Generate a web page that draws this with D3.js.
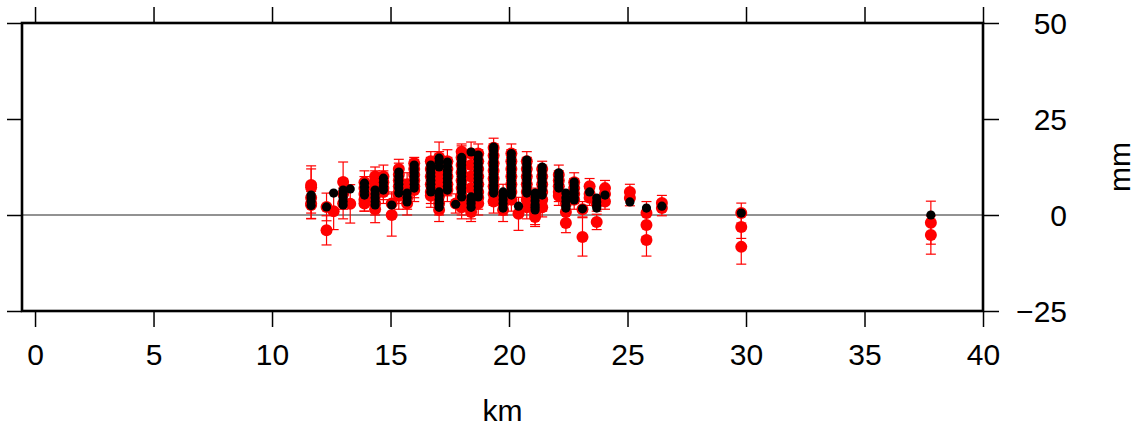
<!DOCTYPE html>
<html><head><meta charset="utf-8">
<script src="https://cdn.jsdelivr.net/npm/d3@7"></script>
<style>
html,body{margin:0;padding:0;background:#fff;}
svg{display:block;font-family:"Liberation Sans",Arial,Helvetica,sans-serif;}
</style></head>
<body>
<svg id="chart" width="1137" height="428"></svg>
<script>
// ---- data ----
const xTicks = [0,5,10,15,20,25,30,35,40];
const yTicks = [-25,0,25,50];
const xDomain = [-0.55, 40];
const yDomain = [-25, 50];

// red (observed) points: km, mm, error (mm)
const redKm = [
 11.65,11.65,11.65,11.65,11.65,
 12.3,12.3,
 12.6,
 13.0,13.0,13.0,
 13.3,
 13.9,13.9,13.9,13.9,13.9,
 14.35,14.35,14.35,14.35,14.35,14.35,
 14.7,14.7,14.7,14.7,
 15.05,15.05,
 15.35,15.35,15.35,15.35,15.35,15.35,
 15.7,15.7,15.7,15.7,
 16.0,16.0,16.0,16.0,16.0,16.0,
 16.7,16.7,16.7,16.7,16.7,16.7,
 17.05,17.05,17.05,17.05,17.05,17.05,17.05,17.05,
 17.4,17.4,17.4,17.4,17.4,
 17.75,
 18.0,18.0,18.0,18.0,18.0,18.0,18.0,18.0,18.0,
 18.4,18.4,18.4,18.4,18.4,18.4,18.4,
 18.7,18.7,18.7,18.7,18.7,18.7,18.7,18.7,
 19.35,19.35,19.35,19.35,19.35,19.35,19.35,19.35,
 19.75,19.75,19.75,
 20.1,20.1,20.1,20.1,20.1,20.1,20.1,
 20.4,
 20.75,20.75,20.75,20.75,20.75,20.75,20.75,
 21.1,21.1,21.1,21.1,
 21.4,21.4,21.4,21.4,21.4,21.4,
 22.1,22.1,22.1,22.1,22.1,
 22.4,22.4,22.4,
 22.75,22.75,22.75,22.75,
 23.1,23.1,
 23.4,23.4,23.4,
 23.7,23.7,
 24.05,24.05,24.05,
 25.1,25.1,
 25.8,25.8,25.8,
 26.45,26.45,
 29.8,29.8,29.8,
 37.8,37.8
];
const redMm = [
 7.8,7.2,4.5,3.0,2.6,
 2.1,-4.0,
 1.0,
 8.6,5.5,3.0,
 2.9,
 8.5,7,5.5,4,3,
 10,8.5,7,5,3,1.5,
 10,8.5,7,6,
 0,3,
 12,10.5,9,7.5,6,5,
 8,6,4.5,3,
 13.5,12,10.5,9,7.5,6.5,
 14,12,10,8,6,5,
 15,13,11,9,7,5,3,1.3,
 14,12,10,8,6.5,
 3,
 16.5,15,13,11,9,7,5,3,2,
 16,13,10,7,4,2,0.8,
 16,14,12,10,8,6,4.5,3,
 17.5,15.5,13.5,11.5,9.5,7.5,5.5,3.5,
 5,3,1.3,
 16,14,12,10,8,6,4,
 0.3,
 14,12,10,8,6,4,2,
 4,2,0.5,-0.5,
 12,10,8,6,4,2,
 10.5,9,7.5,6,5,
 0.8,-2.1,3,
 8.5,7,5.5,4,
 -5.7,1.5,
 7.5,5.5,4.5,
 -1.8,3,
 7,5.5,3.5,
 6,4.4,
 0.5,-2.6,-6.5,
 3.1,1.8,
 0.5,-3.1,-8.3,
 -2,-5.2
];
const redErr = [
 5,4.8,4,4,3.5,
 3.6,3.8,
 4.8,
 5.2,4,4,
 5,
 3,3,3,3,2,
 2.5,3,3,3,3,3.5,
 3,3,3,3,
 5.5,3,
 2.5,3,3,3,3,3.5,
 3,3,3,3,
 1.5,2.5,3,3,3,3,
 2.5,3,3,3,3,3,
 4,3.5,3,3,3,3,3,3,
 3,3,3,3,3,
 2.5,
 2,3,3,3,3,3,3,3,3,
 3,3,3,3,3,3,2.5,
 2.5,3,3,3,3,3,3,3,
 2.5,3,3,3,3,3,3,3,
 3,3,3,
 2.5,3,3,3,3,3,3,
 4.3,
 2.5,3,3,3,3,3,3,
 3,3,3,2.5,
 2,3,3,3,3,2.5,
 2.5,2.5,2.5,2.5,2.5,
 2.5,2.5,2,
 2.5,2.5,2.5,2.5,
 5,2,
 2,2,2,
 2,2,
 2,2,2,
 2,2,
 3,3,4.2,
 2,2,
 2.6,3,4.5,
 5.6,5
];

// black (model) points: km, mm
const blackKm = [
 11.65,11.65,11.65,11.65,
 12.3,
 12.6,
 13.0,13.0,13.0,13.0,13.0,
 13.3,
 13.9,13.9,13.9,13.9,
 14.35,14.35,14.35,14.35,14.35,
 14.7,14.7,14.7,14.7,
 15.05,
 15.35,15.35,15.35,15.35,15.35,15.35,
 15.7,15.7,15.7,
 16.0,16.0,16.0,16.0,16.0,16.0,16.0,
 16.7,16.7,16.7,16.7,16.7,16.7,16.7,16.7,
 17.05,17.05,17.05,17.05,17.05,17.05,17.05,17.05,
 17.4,17.4,17.4,17.4,17.4,17.4,17.4,17.4,
 17.75,
 18.0,18.0,18.0,18.0,18.0,18.0,18.0,18.0,18.0,18.0,18.0,
 18.4,18.4,18.4,18.4,18.4,
 18.7,18.7,18.7,18.7,18.7,18.7,18.7,18.7,18.7,18.7,18.7,18.7,
 19.35,19.35,19.35,19.35,19.35,19.35,19.35,19.35,19.35,19.35,19.35,19.35,19.35,
 19.75,19.75,19.75,19.75,19.75,
 20.1,20.1,20.1,20.1,20.1,20.1,20.1,20.1,20.1,20.1,20.1,20.1,
 20.4,
 20.75,20.75,20.75,20.75,20.75,20.75,20.75,20.75,20.75,20.75,
 21.1,21.1,21.1,21.1,21.1,21.1,
 21.4,21.4,21.4,21.4,21.4,21.4,21.4,21.4,
 22.1,22.1,22.1,22.1,22.1,
 22.4,22.4,22.4,22.4,22.4,
 22.75,22.75,22.75,22.75,22.75,22.75,
 23.1,
 23.4,
 23.7,23.7,23.7,23.7,
 24.05,
 25.1,
 25.8,
 26.45,
 29.8,
 37.8
];
const blackMm = [
 2.5,3.5,4.5,5.2,
 2.1,
 5.7,
 2.6,3.5,4.5,5.5,6.5,
 6.8,
 5.2,6.2,7.2,8.3,
 2.6,3.5,4.5,5.5,6.5,
 6.5,7.5,8.5,9.6,
 2.6,
 5.7,7,8,9,10,11.2,
 3.4,4.5,5.7,
 7,8,9,10,11,12,13,
 6,7,8,9,10,11,12,13,
 2,3,4,5,6,12.5,13.8,14.8,
 6.5,7.5,8.5,9.5,10.5,11.5,12.7,13.8,
 2.8,
 4.7,6,7,8,9,10,11,12,13,14,15,
 2,3,3.8,4.7,16.4,
 4.7,5.5,6.5,7.5,8.5,9.5,10.5,11.5,12.5,13.5,14.5,15.6,
 5.7,6.7,7.7,8.7,9.7,10.7,11.7,12.7,13.7,14.7,15.7,16.7,17.7,
 1.8,3,4,5,6,
 5.2,6,7,8,9,10,11,12,13,14,15,16,
 2.3,
 5.7,6.3,7.3,8.3,9.3,10.3,11.3,12.3,13.3,14.3,
 1.3,2,2.7,3.7,4.7,5.7,
 5.2,6.5,7.5,8.5,9.5,10.5,11.5,12.5,
 7,8,9,10,11,
 1.8,2.5,3.5,4.5,5.7,
 3.9,4.6,5.6,6.6,7.6,8.6,
 1.6,
 6,
 1.8,2.5,3.4,4.4,
 5.2,
 3.4,
 1.8,
 2.3,
 0.5,
 0
];

// ---- drawing ----
const svg = d3.select("#chart");
const x = d3.scaleLinear().domain(xDomain).range([22, 983]);
const y = d3.scaleLinear().domain(yDomain).range([311, 23]);
const FS = 30;

// zero line
svg.append("line")
  .attr("x1", x(xDomain[0])).attr("x2", x(xDomain[1]))
  .attr("y1", y(0)).attr("y2", y(0))
  .attr("stroke", "#6e6e6e").attr("stroke-width", 1.5);

// axes (ticks)
function styleAxis(g){
  g.select(".domain").remove();
  g.selectAll(".tick line").attr("stroke", "#000").attr("stroke-width", 1.5);
  g.selectAll("text").attr("fill", "#000").style("font-size", FS + "px")
    .style("font-family", '"Liberation Sans",Arial,Helvetica,sans-serif');
}
svg.append("g").attr("transform", `translate(0,${y(yDomain[0])})`)
  .call(d3.axisBottom(x).tickValues(xTicks).tickSize(16).tickPadding(17).tickFormat(d3.format("d")))
  .call(styleAxis);
svg.append("g").attr("transform", `translate(0,${y(yDomain[1])})`)
  .call(d3.axisTop(x).tickValues(xTicks).tickSize(16).tickFormat(""))
  .call(styleAxis);
svg.append("g").attr("transform", `translate(${x(xDomain[0])},0)`)
  .call(d3.axisLeft(y).tickValues(yTicks).tickSize(15).tickFormat(""))
  .call(styleAxis);
const ra = svg.append("g").attr("transform", `translate(${x(xDomain[1])},0)`)
  .call(d3.axisRight(y).tickValues(yTicks).tickSize(16).tickFormat(d3.format("d")))
  .call(styleAxis);
ra.selectAll("text").attr("text-anchor", "end").attr("x", 84).attr("dy", "0.36em");

// error bars
const eb = svg.append("g").attr("stroke", "#ff0000").attr("stroke-width", 1.2).attr("fill", "none");
redKm.forEach((k, i) => {
  const cx = x(k), y1 = y(redMm[i] + redErr[i]), y2 = y(redMm[i] - redErr[i]);
  eb.append("line").attr("x1", cx).attr("x2", cx).attr("y1", y1).attr("y2", y2);
  eb.append("line").attr("x1", cx - 5).attr("x2", cx + 5).attr("y1", y1).attr("y2", y1);
  eb.append("line").attr("x1", cx - 5).attr("x2", cx + 5).attr("y1", y2).attr("y2", y2);
});

// red points
svg.append("g").selectAll("circle").data(redKm).join("circle")
  .attr("cx", d => x(d)).attr("cy", (d, i) => y(redMm[i])).attr("r", 6)
  .attr("fill", "#ff0000");

// black points
svg.append("g").selectAll("circle").data(blackKm).join("circle")
  .attr("cx", d => x(d)).attr("cy", (d, i) => y(blackMm[i])).attr("r", 4.6)
  .attr("fill", "#000");

// frame
svg.append("rect")
  .attr("x", x(xDomain[0])).attr("y", y(yDomain[1]))
  .attr("width", x(xDomain[1]) - x(xDomain[0]))
  .attr("height", y(yDomain[0]) - y(yDomain[1]))
  .attr("fill", "none").attr("stroke", "#000").attr("stroke-width", 2.6);

// titles
svg.append("text").attr("x", (x(xDomain[0]) + x(xDomain[1])) / 2).attr("y", 421)
  .attr("text-anchor", "middle").style("font-size", FS + "px").text("km");
svg.append("text").attr("transform", `translate(1130,${(y(yDomain[0]) + y(yDomain[1])) / 2}) rotate(-90)`)
  .attr("text-anchor", "middle").style("font-size", FS + "px").text("mm");
</script>
</body></html>
